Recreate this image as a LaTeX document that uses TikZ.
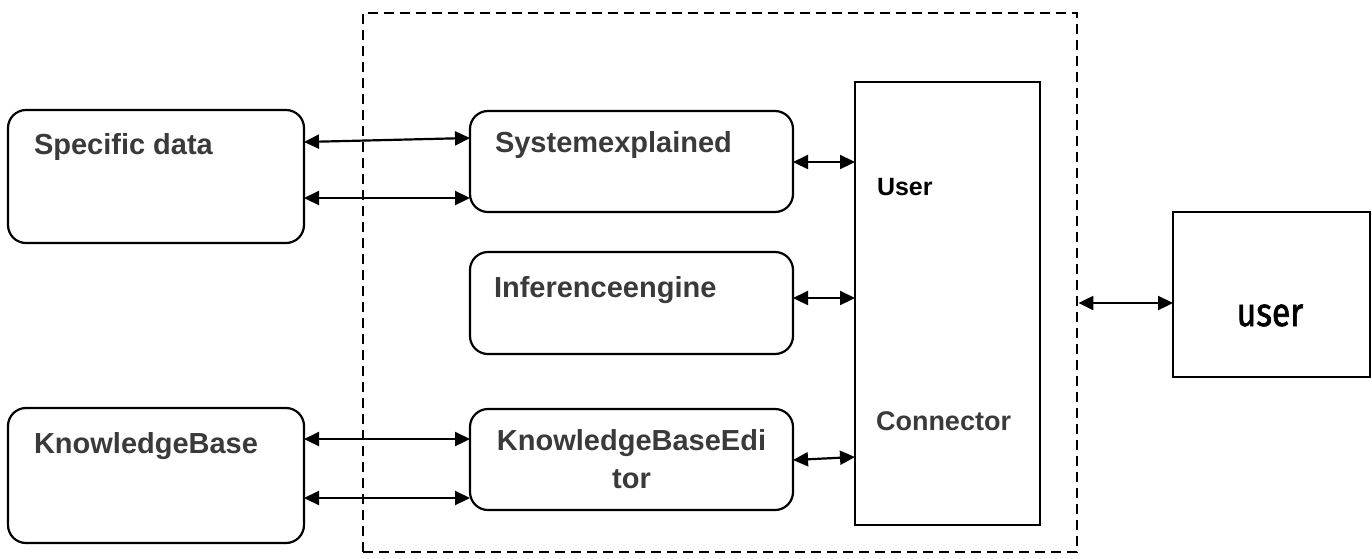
\documentclass[tikz,border=0pt]{standalone}
\usepackage{fontspec}
\setmainfont{Liberation Sans}
\newfontfamily\userfont[FakeStretch=0.84, FakeBold=1.6]{Fira Sans}
\usetikzlibrary{arrows.meta}
\definecolor{txtgray}{HTML}{3A3A3A}
\tikzset{
  rbox/.style={draw=black, line width=2.2pt, rounded corners=18pt, rectangle, inner sep=0pt, outer sep=0pt},
  sbox/.style={draw=black, line width=2.2pt, rectangle, inner sep=0pt, outer sep=0pt},
  lbl/.style={inner sep=0pt, outer sep=0pt, anchor=base west, text=txtgray, font=\bfseries\fontsize{29}{35}\selectfont},
  arr/.style={line width=2.2pt, {Triangle[length=15pt,width=14pt]}-{Triangle[length=15pt,width=14pt]}},
}
\begin{document}
\begin{tikzpicture}[x=1pt,y=-1pt]
\useasboundingbox (0,0) rectangle (1372,558);
% dashed system boundary
\node[draw=black, line width=2.8pt, dash pattern=on 10pt off 6pt, rectangle, inner sep=0pt,
      minimum width=714pt, minimum height=539pt] (sys) at (720,282.5) {};
% boxes
\node[rbox, minimum width=296pt, minimum height=133pt] (sd) at (156,176.5) {};
\node[rbox, minimum width=296pt, minimum height=135pt] (kb) at (156,475.5) {};
\node[rbox, minimum width=323pt, minimum height=101pt] (se) at (631.5,161.5) {};
\node[rbox, minimum width=323pt, minimum height=102pt] (ie) at (631.5,303) {};
\node[rbox, minimum width=323pt, minimum height=101pt] (kbe) at (631.5,459.5) {};
\node[sbox, minimum width=185pt, minimum height=443pt] (conn) at (947.5,303.5) {};
\node[sbox, minimum width=197pt, minimum height=165pt] (user) at (1271.5,294.5) {};
% labels
\node[lbl] (tsd) at (34,154) {Specific data};
\node[lbl] (tkb) at (34,453) {KnowledgeBase};
\node[lbl] (tse) at (495,152) {Systemexplained};
\node[lbl] (tie) at (494,297) {Inferenceengine};
\node[lbl, anchor=base] (tkbe1) at (631.5,450) {KnowledgeBaseEdi};
\node[lbl, anchor=base] (tkbe2) at (631.5,488) {tor};
\node[lbl, text=black, font=\bfseries\fontsize{25}{30}\selectfont] (tuser) at (877,195) {User};
\node[lbl, font=\bfseries\fontsize{27}{32}\selectfont] (tconn) at (876,430) {Connector};
\node[inner sep=0pt, anchor=base, font=\userfont\fontsize{40}{46}\selectfont] (tu) at (1270,326) {user};
% connectors
\draw[arr] (sd.east |- 0,142) -- (se.west |- 0,138);
\draw[arr] (sd.east |- 0,198) -- (se.west |- 0,198);
\draw[arr] (kb.east |- 0,439) -- (kbe.west |- 0,439);
\draw[arr] (kb.east |- 0,498) -- (kbe.west |- 0,498);
\draw[arr] (se.east |- 0,162) -- (conn.west |- 0,162);
\draw[arr] (ie.east |- 0,298) -- (conn.west |- 0,298);
\draw[arr] (kbe.east |- 0,460) -- (conn.west |- 0,457);
\draw[arr] (sys.east |- 0,303) -- (user.west |- 0,303);
\end{tikzpicture}
\end{document}
